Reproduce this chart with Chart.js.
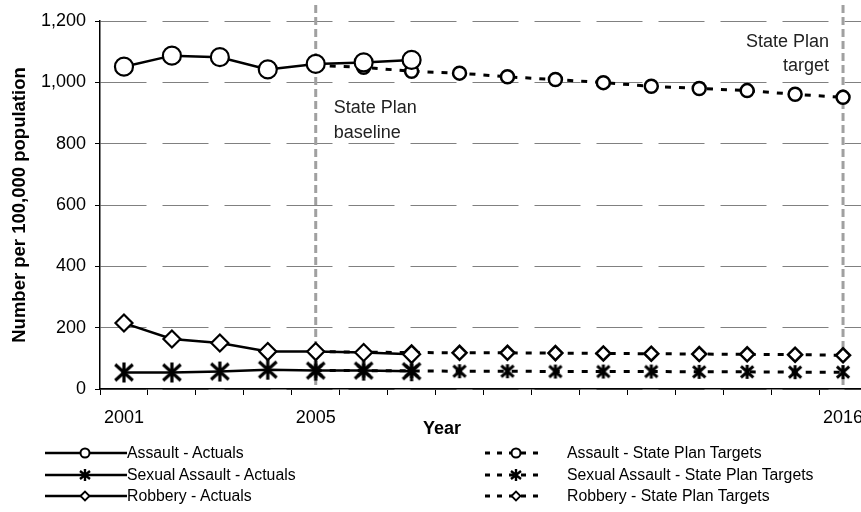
<!DOCTYPE html>
<html>
<head>
<meta charset="utf-8">
<script src="https://cdn.jsdelivr.net/npm/chart.js@4.4.0/dist/chart.umd.min.js"></script>
<style>
  html, body { margin: 0; padding: 0; background: #fff; width: 861px; height: 512px; overflow: hidden; }
  body { font-family: "Liberation Sans", Arial, sans-serif; color: #000; }
  #wrap { position: relative; width: 880px; height: 512px; }
  #year-title { position: absolute; left: 423px; top: 417px; font-weight: bold; font-size: 18px; line-height: 22px; }
  .lg { position: absolute; height: 18px; display: flex; align-items: center; font-size: 15.8px; white-space: nowrap; }
  .lg svg { display: block; }
</style>
</head>
<body>
<div id="wrap">
  <canvas id="chart" width="880" height="512"></canvas>
  <div id="year-title">Year</div>
  <div id="legend"></div>
</div>
<script>
// ===== Data =====
const years = ['2001','2002','2003','2004','2005','2006','2007','2008','2009','2010','2011','2012','2013','2014','2015','2016'];
const shownYears = ['2001', '2005', '2016'];
const markYears = ['2005', '2016'];

const assaultActual = [1051, 1087, 1082, 1042, 1060, 1065, 1073];
const sexualActual  = [54, 54, 57, 63, 60, 60, 58];
const robberyActual = [215, 163, 150, 122, 122, 119, 113];

const assaultTarget = [null, null, null, null, 1055, 1049, 1036, 1030, 1018, 1009, 999, 987, 980, 973, 961, 951];
const sexualTarget  = [null, null, null, null, 60, 60, 59, 58, 58, 57, 57, 57, 56, 56, 55, 55];
const robberyTarget = [null, null, null, null, 122, 120, 119, 118, 118, 117, 116, 115, 114, 113, 112, 110];

const FONT = '"Liberation Sans", Arial, sans-serif';

// asterisk marker (vertical bar + X), like the spreadsheet "star" marker
function asterisk(size, lw) {
  const c = document.createElement('canvas');
  c.width = size; c.height = size;
  const g = c.getContext('2d');
  const m = size / 2, r = size / 2 - 1;
  g.strokeStyle = '#000'; g.lineWidth = lw; g.lineCap = 'butt';
  g.beginPath();
  g.moveTo(m, m - r); g.lineTo(m, m + r);
  g.moveTo(m - r * 0.88, m - r * 0.8); g.lineTo(m + r * 0.88, m + r * 0.8);
  g.moveTo(m - r * 0.88, m + r * 0.8); g.lineTo(m + r * 0.88, m - r * 0.8);
  g.stroke();
  return c;
}
const starBig = asterisk(22, 3.2);
const starSmall = asterisk(16, 3);

function actual(label, data, style, radius) {
  return { label, data, borderColor: '#000', borderWidth: 2.5, backgroundColor: '#fff',
    pointStyle: style, pointRadius: radius, pointBorderWidth: 2.2, pointBackgroundColor: '#fff', pointBorderColor: '#000' };
}
function target(label, data, style, radius) {
  return { label, data, borderColor: '#000', borderWidth: 3, borderDash: [6, 8], backgroundColor: '#fff',
    pointStyle: style, pointRadius: radius, pointBorderWidth: 2.5, pointBackgroundColor: '#fff', pointBorderColor: '#000' };
}

// grey dashed vertical markers + their notes
const markLines = {
  id: 'markLines',
  beforeDatasetsDraw(chart) {
    const { ctx, scales: { x, y } } = chart;
    ctx.save();
    ctx.strokeStyle = '#a0a0a0'; ctx.lineWidth = 3; ctx.setLineDash([8, 4]);
    markYears.forEach(yr => {
      const px = x.getPixelForValue(years.indexOf(yr));
      ctx.beginPath(); ctx.moveTo(px, 5); ctx.lineTo(px, y.bottom); ctx.stroke();
    });
    ctx.setLineDash([]);
    ctx.fillStyle = '#222';
    ctx.font = '18px ' + FONT;
    ctx.textBaseline = 'middle';
    const pb = x.getPixelForValue(years.indexOf('2005'));
    ctx.textAlign = 'left';
    ctx.fillText('State Plan', pb + 18, 108);
    ctx.fillText('baseline', pb + 18, 133);
    const pt = x.getPixelForValue(years.indexOf('2016'));
    ctx.textAlign = 'right';
    ctx.fillText('State Plan', pt - 14, 42);
    ctx.fillText('target', pt - 14, 66);
    ctx.restore();
  }
};

new Chart(document.getElementById('chart'), {
  type: 'line',
  data: {
    labels: years,
    datasets: [
      actual('Assault - Actuals', assaultActual, 'circle', 9),
      actual('Sexual Assault - Actuals', sexualActual, starBig, 8),
      actual('Robbery - Actuals', robberyActual, 'rectRot', 8.5),
      target('Assault - State Plan Targets', assaultTarget, 'circle', 6.5),
      target('Sexual Assault - State Plan Targets', sexualTarget, starSmall, 7),
      target('Robbery - State Plan Targets', robberyTarget, 'rectRot', 7)
    ]
  },
  options: {
    responsive: false,
    animation: false,
    layout: { padding: { top: 21, right: 13, left: 0, bottom: 0 } },
    plugins: { legend: { display: false }, tooltip: { enabled: false } },
    scales: {
      x: {
        offset: true,
        grid: { offset: true, drawOnChartArea: false, drawTicks: true, tickLength: 6, tickColor: '#000', tickWidth: 1 },
        border: { color: '#000', width: 1.5 },
        ticks: {
          autoSkip: false, maxRotation: 0, padding: 12, color: '#000', font: { family: FONT, size: 18 },
          callback(v, i) { return shownYears.includes(years[i]) ? years[i] : ''; }
        },
        afterFit(scale) { scale.height = 512 - 389; }
      },
      y: {
        min: 0, max: 1200,
        ticks: { stepSize: 200, padding: 9, color: '#000', font: { family: FONT, size: 18 } },
        grid: { color: '#808080', lineWidth: 1, tickLength: 5, tickColor: '#000' },
        border: { color: '#000', width: 1.5, dash: [46, 16] },
        title: { display: true, text: 'Number per 100,000 population', color: '#000',
          font: { family: FONT, size: 18.5, weight: 'bold' }, padding: { top: 9, bottom: 0 } },
        afterFit(scale) { scale.width = 100; }
      }
    }
  },
  plugins: [markLines]
});

// ===== Legend (two columns) =====
const lgRows = [453, 475, 496];
const markerSvg = {
  circle: '<circle cx="C" cy="9" r="4.5" fill="#fff" stroke="#000" stroke-width="2"/>',
  star: '<path d="MC 3 V15 M(C-5) 5 L(C+5) 13 M(C-5) 13 L(C+5) 5" stroke="#000" stroke-width="2.4" fill="none"/>',
  diamond: '<polygon points="(C-4.5),9 C,4.5 (C+4.5),9 C,13.5" fill="#fff" stroke="#000" stroke-width="1.8"/>'
};
function marker(kind, cx) {
  return markerSvg[kind].replace(/\(C([+-][\d.]+)\)/g, (m, d) => String(cx + parseFloat(d))).replace(/C/g, String(cx));
}
const lgItems = [
  { text: 'Assault - Actuals', kind: 'circle', dashed: false },
  { text: 'Sexual Assault - Actuals', kind: 'star', dashed: false },
  { text: 'Robbery - Actuals', kind: 'diamond', dashed: false },
  { text: 'Assault - State Plan Targets', kind: 'circle', dashed: true },
  { text: 'Sexual Assault - State Plan Targets', kind: 'star', dashed: true },
  { text: 'Robbery - State Plan Targets', kind: 'diamond', dashed: true }
];
const legendEl = document.getElementById('legend');
lgItems.forEach((it, i) => {
  const row = lgRows[i % 3];
  const div = document.createElement('div');
  div.className = 'lg';
  div.style.top = (row - 9) + 'px';
  let svg;
  if (!it.dashed) {
    div.style.left = '45px';
    svg = `<svg width="82" height="18"><line x1="0" y1="9" x2="82" y2="9" stroke="#000" stroke-width="2.5"/>${marker(it.kind, 40)}</svg>`;
  } else {
    div.style.left = '485px';
    svg = `<svg width="82" height="18"><line x1="0" y1="9" x2="54" y2="9" stroke="#000" stroke-width="3" stroke-dasharray="5 7"/>${marker(it.kind, 31)}</svg>`;
  }
  div.innerHTML = svg + `<span>${it.text}</span>`;
  legendEl.appendChild(div);
});
</script>
</body>
</html>
